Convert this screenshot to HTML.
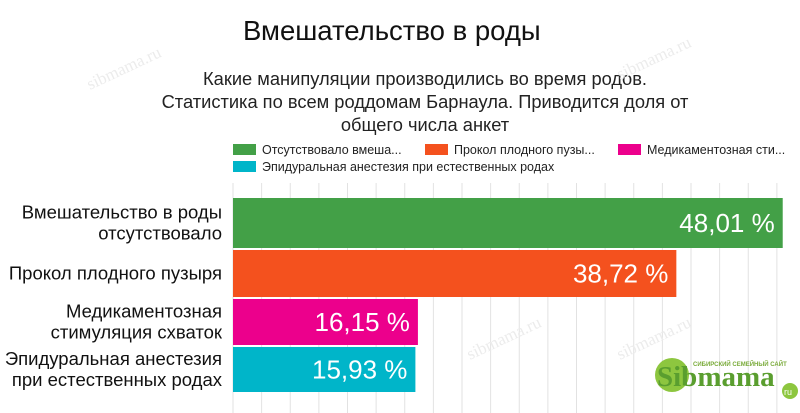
<!DOCTYPE html>
<html><head><meta charset="utf-8"><style>
body{margin:0;width:800px;height:413px;background:#fff;overflow:hidden;font-family:"Liberation Sans",sans-serif;position:relative}
.t{position:absolute;white-space:nowrap}
</style></head><body>
<div class="t" style="left:243px;top:15px;font-size:27.5px;color:#111">Вмешательство в роды</div>
<div class="t" style="left:125px;top:67px;width:600px;text-align:center;font-size:18.3px;line-height:23px;color:#222;white-space:normal">Какие манипуляции производились во время родов.<br>Статистика по всем роддомам Барнаула. Приводится доля от<br>общего числа анкет</div>
<svg id="c" width="800" height="413" style="position:absolute;left:0;top:0"></svg>
<script>
const categories=["Вмешательство в роды|отсутствовало","Прокол плодного пузыря","Медикаментозная|стимуляция схваток","Эпидуральная анестезия|при естественных родах"];
const values=[48.01,38.72,16.15,15.93];
const labels=["48,01 %","38,72 %","16,15 %","15,93 %"];
const colors=["#43a047","#f4511e","#ec008c","#00b5c9"];
const legendNames=["Отсутствовало вмеша...","Прокол плодного пузы...","Медикаментозная сти...","Эпидуральная анестезия при естественных родах"];
const ns="http://www.w3.org/2000/svg",svg=document.getElementById('c');
const x0=233,k=11.45;const X=v=>x0+v*k;
const bandTop=[198,250,299,347],bandH=[50,47,46,45];
function el(t,a){const e=document.createElementNS(ns,t);for(const q in a)e.setAttribute(q,a[q]);svg.appendChild(e);return e;}
for(let i=0;i<20;i++){const g=el('line',{x1:X(i*2.5),x2:X(i*2.5),y1:183,y2:413,stroke:'#e2e2e2','stroke-width':1});

}
[[90,90],[620,80],[430,240],[650,240],[470,360],[620,360]].forEach(p=>{const w=el('text',{x:p[0],y:p[1],transform:`rotate(-25 ${p[0]} ${p[1]})`,'font-size':17,fill:'#ececec','font-family':'Liberation Serif'});w.textContent='sibmama.ru';

});
const lp=[[233,150],[425,150],[618,150],[233,167]];
legendNames.forEach((n,i)=>{const r=el('rect',{x:lp[i][0],y:lp[i][1]-6,width:23,height:11,fill:colors[i]});


const t=el('text',{x:lp[i][0]+29,y:lp[i][1]+4,'font-size':12.5,fill:'#222'});t.textContent=n;

});
values.forEach((v,i)=>{const y=bandTop[i],h=bandH[i];
const b=el('rect',{x:x0,y:y,width:X(v)-x0,height:h,fill:colors[i]});


const t=el('text',{x:X(v)-8,y:y+h/2+9,'font-size':26,fill:'#fff','text-anchor':'end'});t.textContent=labels[i];


const lines=categories[i].split('|');
lines.forEach((s,j)=>{const c=el('text',{x:222,y:y+h/2+6+(j-(lines.length-1)/2)*21,'font-size':18.5,fill:'#111','text-anchor':'end'});c.textContent=s;

});});
const lg=el('circle',{cx:672,cy:375,r:17,fill:'#8dc63f'});


const l1=el('text',{x:657,y:386,'font-size':29,'font-weight':'bold','font-family':'Liberation Serif',fill:'#5a9e2f'});l1.textContent='Sibmama';


const l2=el('text',{x:693,y:366,'font-size':6,'font-weight':'bold',fill:'#7aab3a'});l2.textContent='СИБИРСКИЙ СЕМЕЙНЫЙ САЙТ';


const l3=el('circle',{cx:790,cy:391,r:8,fill:'#8dc63f'});


const l4=el('text',{x:784,y:395,'font-size':9,fill:'#fff'});l4.textContent='ru';


</script>
</body></html>
